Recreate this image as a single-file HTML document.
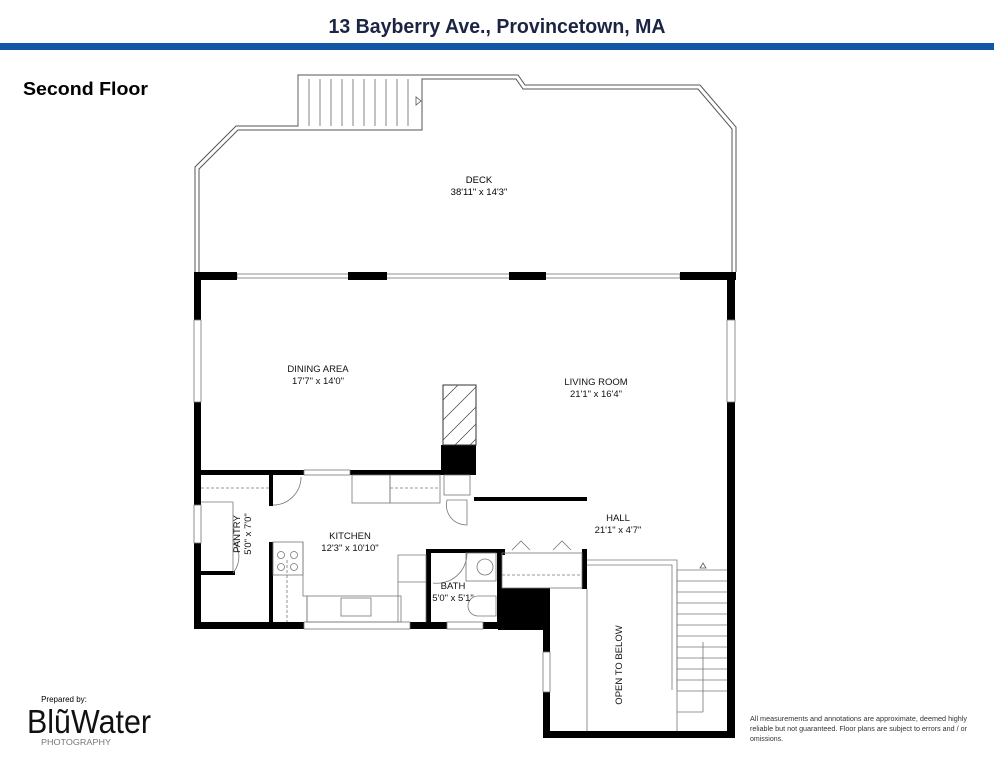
<!DOCTYPE html>
<html><head><meta charset="utf-8"><style>
html,body{margin:0;padding:0;background:#fff;width:994px;height:768px;overflow:hidden}
svg{display:block}
text{font-family:"Liberation Sans",sans-serif}
</style></head><body>
<svg width="994" height="768" viewBox="0 0 994 768" xmlns="http://www.w3.org/2000/svg">
<rect width="994" height="768" fill="#fff"/>
<text x="497" y="33" text-anchor="middle" font-size="20" font-weight="bold" fill="#1b2443" textLength="337" lengthAdjust="spacingAndGlyphs">13 Bayberry Ave., Provincetown, MA</text>
<rect x="0" y="43" width="994" height="7" fill="#1157a5"/>
<text x="23" y="95" font-size="18" font-weight="bold" fill="#000" textLength="125" lengthAdjust="spacingAndGlyphs">Second Floor</text>

<!-- deck railing -->
<g fill="none" stroke="#555" stroke-width="1">
<polyline points="195,272 195,167 236,126 298,126 298,75 518,75 525,85 700,85 736,127 736,272"/>
<polyline points="199,272 199,169 238,130 422,130 422,79 516,79 523,89 698,89 732,129 732,272"/>
</g>
<!-- deck stairs -->
<g stroke="#666" stroke-width="0.8">
<line x1="298" y1="79" x2="298" y2="126"/>
<line x1="309" y1="79" x2="309" y2="126"/><line x1="320" y1="79" x2="320" y2="126"/>
<line x1="331" y1="79" x2="331" y2="126"/><line x1="342" y1="79" x2="342" y2="126"/>
<line x1="353" y1="79" x2="353" y2="126"/><line x1="364" y1="79" x2="364" y2="126"/>
<line x1="375" y1="79" x2="375" y2="126"/><line x1="386" y1="79" x2="386" y2="126"/>
<line x1="397" y1="79" x2="397" y2="126"/><line x1="408" y1="79" x2="408" y2="126"/>
</g>
<polygon points="416,97 416,105 421,101" fill="none" stroke="#555" stroke-width="0.8"/>
<text x="479" y="183" text-anchor="middle" font-size="9.5">DECK</text>
<text x="479" y="195" text-anchor="middle" font-size="9.5">38'11" x 14'3"</text>

<!-- top wall with windows -->
<g fill="none" stroke="#777" stroke-width="0.8">
<rect x="237" y="274" width="443" height="4"/>
</g>
<g fill="#000">
<rect x="194" y="272" width="43" height="8"/>
<rect x="348" y="272" width="39" height="8"/>
<rect x="509" y="272" width="37" height="8"/>
<rect x="680" y="272" width="56" height="8"/>
<!-- left exterior wall -->
<rect x="194" y="272" width="7" height="357"/>
<!-- right exterior wall -->
<rect x="727" y="272" width="8" height="466"/>
<!-- bottom kitchen wall -->
<rect x="194" y="622" width="306" height="7"/>
<!-- black block -->
<rect x="498" y="588" width="52" height="42"/>
<rect x="543" y="588" width="7" height="150"/>
<rect x="543" y="731" width="192" height="7"/>
<!-- kitchen top wall -->
<rect x="194" y="470" width="110" height="5"/>
<rect x="350" y="470" width="92" height="5"/>
<!-- chimney -->
<rect x="441" y="445" width="35" height="30"/>
<rect x="441" y="470" width="35" height="5"/>
<!-- hall wall -->
<rect x="474" y="497" width="113" height="4"/>
<!-- pantry walls -->
<rect x="269" y="470" width="4" height="36"/>
<rect x="269" y="542" width="4" height="87"/>
<rect x="194" y="571" width="41" height="4"/>
<!-- bath walls -->
<rect x="426" y="549" width="5" height="80"/>
<rect x="426" y="549" width="74" height="4"/>
<rect x="497" y="549" width="5" height="80"/>
<rect x="500" y="549" width="5" height="6"/>
<rect x="582" y="549" width="5" height="40"/>
</g>
<!-- windows on walls -->
<g fill="#fff" stroke="#777" stroke-width="0.8">
<rect x="194" y="320" width="7" height="82"/>
<rect x="194" y="505" width="7" height="38"/>
<rect x="727" y="320" width="8" height="82"/>
<rect x="543" y="652" width="7" height="40"/>
<rect x="304" y="622" width="106" height="7"/>
<rect x="447" y="622" width="36" height="7"/>
<rect x="304" y="470" width="46" height="5"/>
</g>
<!-- chimney hatch -->
<rect x="443" y="385" width="33" height="60" fill="#fff" stroke="#333" stroke-width="1"/>
<g stroke="#444" stroke-width="0.7">
<line x1="443" y1="400" x2="458" y2="385"/><line x1="443" y1="420" x2="476" y2="387"/>
<line x1="443" y1="440" x2="476" y2="407"/><line x1="455" y1="445" x2="476" y2="424"/>
<line x1="470" y1="445" x2="476" y2="439"/>
</g>
<!-- kitchen fixtures -->
<g fill="none" stroke="#777" stroke-width="0.8">
<rect x="352" y="475" width="38" height="28"/>
<rect x="390" y="475" width="50" height="28"/>
<rect x="444" y="475" width="26" height="20"/>
<rect x="273" y="542" width="30" height="33"/>
<polyline points="303,542 303,596 307,596 307,622"/>
<rect x="307" y="596" width="94" height="26"/>
<rect x="341" y="598" width="30" height="18"/>
<polyline points="398,622 398,555 426,555 426,622"/>
<line x1="398" y1="582" x2="426" y2="582"/>
<rect x="466" y="553" width="30" height="28"/>
<circle cx="485" cy="567" r="8"/>
<path d="M478,596 a10,10 0 0 0 0,20 h18 v-20z"/>
<rect x="502" y="553" width="80" height="35"/>
<line x1="502" y1="575" x2="582" y2="575" stroke-dasharray="3,2"/>
<polyline points="512,550 521,541 530,550"/>
<polyline points="553,550 562,541 571,550"/>
<polyline points="587,560 677,560 677,690"/>
<polyline points="587,565 672,565 672,690"/>
<line x1="587" y1="589" x2="587" y2="731"/>
<line x1="677" y1="570" x2="677" y2="731"/>
<line x1="233" y1="502" x2="233" y2="571"/>
<line x1="201" y1="502" x2="233" y2="502"/>
<line x1="201" y1="488" x2="269" y2="488" stroke-dasharray="3,2"/>
<line x1="390" y1="488" x2="440" y2="488" stroke-dasharray="3,2"/>
<line x1="287" y1="560" x2="287" y2="622" stroke-dasharray="3,2"/>
<path d="M273,505 a28,28 0 0 0 28,-28"/>
<path d="M233,540 a26,26 0 0 1 0,33"/>
<path d="M447,500 a20,20 0 0 0 20,25 v-25z"/>
<path d="M433,553 a25,25 0 0 1 0,0 M467,553 a30,30 0 0 1 -34,30"/>
</g>
<g fill="none" stroke="#777" stroke-width="0.8">
<circle cx="281" cy="555" r="3.5"/><circle cx="294" cy="555" r="3.5"/>
<circle cx="281" cy="567" r="3.5"/><circle cx="294" cy="567" r="3.5"/>
</g>
<!-- right stairs -->
<g stroke="#777" stroke-width="0.8">
<line x1="677" y1="570" x2="727" y2="570"/><line x1="677" y1="581" x2="727" y2="581"/>
<line x1="677" y1="592" x2="727" y2="592"/><line x1="677" y1="603" x2="727" y2="603"/>
<line x1="677" y1="614" x2="727" y2="614"/><line x1="677" y1="625" x2="727" y2="625"/>
<line x1="677" y1="636" x2="727" y2="636"/><line x1="677" y1="647" x2="727" y2="647"/>
<line x1="677" y1="658" x2="727" y2="658"/><line x1="677" y1="669" x2="727" y2="669"/>
<line x1="677" y1="680" x2="727" y2="680"/><line x1="677" y1="691" x2="727" y2="691"/>
<line x1="703" y1="642" x2="703" y2="712"/><line x1="677" y1="712" x2="703" y2="712"/>
</g>
<polygon points="700,568 706,568 703,563" fill="none" stroke="#555" stroke-width="0.8"/>

<!-- labels -->
<g font-size="9.5" text-anchor="middle" fill="#111">
<text x="318" y="372">DINING AREA</text><text x="318" y="384">17'7" x 14'0"</text>
<text x="596" y="385">LIVING ROOM</text><text x="596" y="397">21'1" x 16'4"</text>
<text x="618" y="521">HALL</text><text x="618" y="533">21'1" x 4'7"</text>
<text x="350" y="539">KITCHEN</text><text x="350" y="551">12'3" x 10'10"</text>
<text x="453" y="589">BATH</text><text x="453" y="601">5'0" x 5'1"</text>
<text transform="translate(240,534) rotate(-90)">PANTRY</text>
<text transform="translate(251,534) rotate(-90)">5'0" x 7'0"</text>
<text transform="translate(622,665) rotate(-90)">OPEN TO BELOW</text>
</g>

<!-- logo -->
<text x="64" y="702" font-size="8" text-anchor="middle">Prepared by:</text>
<text x="27" y="733" font-size="33" fill="#111" font-weight="normal" textLength="124" lengthAdjust="spacingAndGlyphs">BlũWater</text>
<text x="76" y="745" font-size="8" fill="#777" text-anchor="middle" textLength="70" lengthAdjust="spacingAndGlyphs">PHOTOGRAPHY</text>
<g font-size="7" fill="#333">
<text x="750" y="721" textLength="217" lengthAdjust="spacingAndGlyphs">All measurements and annotations are approximate, deemed highly</text>
<text x="750" y="731" textLength="217" lengthAdjust="spacingAndGlyphs">reliable but not guaranteed. Floor plans are subject to errors and / or</text>
<text x="750" y="741">omissions.</text>
</g>
</svg>
</body></html>
